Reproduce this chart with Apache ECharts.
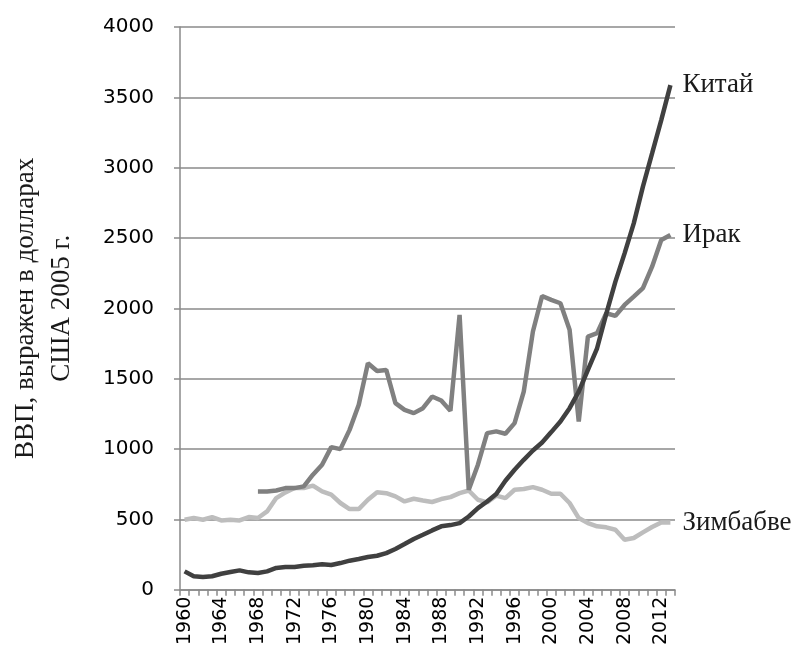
<!DOCTYPE html>
<html>
<head>
<meta charset="utf-8">
<script src="https://cdn.jsdelivr.net/npm/echarts@6/dist/echarts.min.js"></script>
<style>
  html, body { margin: 0; padding: 0; background: #fff; }
  #chart { width: 796px; height: 648px; }
</style>
</head>
<body>
<div id="chart"></div>
<script>
const years = [
  '1960', '1961', '1962', '1963', '1964', '1965', '1966', '1967', '1968', '1969',
  '1970', '1971', '1972', '1973', '1974', '1975', '1976', '1977', '1978', '1979',
  '1980', '1981', '1982', '1983', '1984', '1985', '1986', '1987', '1988', '1989',
  '1990', '1991', '1992', '1993', '1994', '1995', '1996', '1997', '1998', '1999',
  '2000', '2001', '2002', '2003', '2004', '2005', '2006', '2007', '2008', '2009',
  '2010', '2011', '2012', '2013'
];

// ВВП на душу населения, долл. США 2005 г.
const china = [
  130, 95, 90, 95, 113, 125, 137, 123, 118, 130,
  154, 161, 161, 170, 173, 180, 175, 189, 206, 218,
  232, 241, 260, 289, 324, 360, 390, 421, 450, 459,
  473, 520, 580, 627, 680, 774, 852, 923, 989, 1046,
  1120, 1195, 1290, 1408, 1562, 1716, 1960, 2190, 2391, 2604,
  2865, 3101, 3338, 3587
];
const iraq = [
  null, null, null, null, null, null, null, null, 698, 698,
  705, 722, 722, 734, 817, 888, 1013, 999, 1136, 1314,
  1610, 1555, 1562, 1326, 1278, 1255, 1290, 1373, 1345, 1271,
  1953, 710, 888, 1113, 1125, 1108, 1184, 1408, 1835, 2088,
  2060, 2036, 1847, 1195, 1799, 1823, 1965, 1946, 2024, 2083,
  2143, 2296, 2486, 2521
];
const zimbabwe = [
  497, 509, 497, 516, 492, 497, 492, 516, 509, 556,
  651, 691, 722, 722, 739, 698, 675, 616, 573, 573,
  639, 692, 686, 663, 627, 646, 634, 623, 644, 658,
  686, 705, 639, 620, 668, 651, 710, 715, 729, 710,
  682, 682, 616, 509, 473, 450, 443, 426, 355, 367,
  407, 445, 478, 478
];

const serif = '"Liberation Serif", "Times New Roman", serif';
const sans = '"DejaVu Sans", Verdana, sans-serif';
const axisGrey = '#8a8a8a';

function lineSeries(name, data, color) {
  return {
    name: name,
    type: 'line',
    data: data,
    symbol: 'none',
    smooth: false,
    connectNulls: false,
    lineStyle: { color: color, width: 4.5 },
    itemStyle: { color: color },
    endLabel: {
      show: true,
      formatter: name,
      distance: 12,
      color: '#1a1a1a',
      fontFamily: serif,
      fontSize: 27
    },
    emphasis: { disabled: true },
    animation: false
  };
}

const chart = echarts.init(document.getElementById('chart'), null, { renderer: 'canvas' });

chart.setOption({
  backgroundColor: '#fff',
  animation: false,
  grid: { left: 175, right: 121, top: 27, bottom: 58, containLabel: false },
  xAxis: {
    type: 'category',
    data: years,
    boundaryGap: true,
    axisLine: { lineStyle: { color: axisGrey, width: 1.5 } },
    axisTick: { show: true, interval: 0, length: 6, lineStyle: { color: axisGrey, width: 1.5 } },
    axisLabel: {
      interval: 3,
      rotate: 90,
      margin: 7,
      color: '#000',
      fontFamily: sans,
      fontSize: 19
    },
    splitLine: { show: false }
  },
  yAxis: {
    type: 'value',
    min: 0,
    max: 4000,
    interval: 500,
    name: 'ВВП, выражен в долларах\nСША 2005 г.',
    nameLocation: 'middle',
    nameRotate: 90,
    nameGap: 100,
    nameTextStyle: {
      color: '#1a1a1a',
      fontFamily: serif,
      fontSize: 27,
      lineHeight: 36
    },
    axisLine: { show: true, lineStyle: { color: axisGrey, width: 1.5 } },
    axisTick: { show: true, length: 6, lineStyle: { color: axisGrey, width: 1.5 } },
    axisLabel: {
      margin: 26,
      color: '#000',
      fontFamily: sans,
      fontSize: 20,
      formatter: function (v) { return String(v); }
    },
    splitLine: { show: true, lineStyle: { color: axisGrey, width: 1.5 } }
  },
  series: [
    lineSeries('Зимбабве', zimbabwe, '#bdbdbd'),
    lineSeries('Ирак', iraq, '#808080'),
    lineSeries('Китай', china, '#404040')
  ]
});
</script>
</body>
</html>
